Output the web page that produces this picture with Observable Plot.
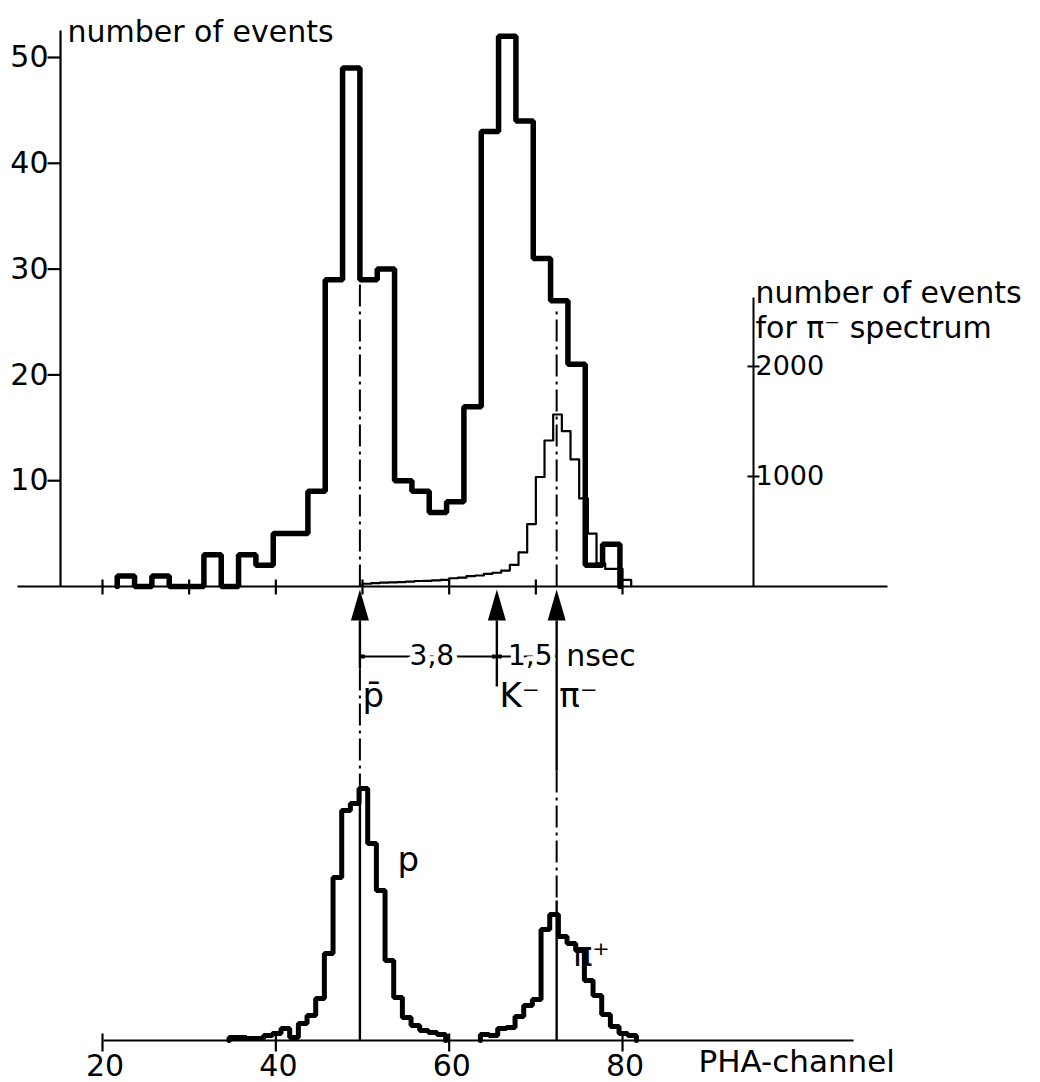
<!DOCTYPE html>
<html><head><meta charset="utf-8">
<script src="https://cdn.jsdelivr.net/npm/d3@7"></script>
<script src="https://cdn.jsdelivr.net/npm/@observablehq/plot@0.6"></script>
<style>body{margin:0;background:#fff}</style>
</head><body><div id="chart"></div>
<script>
// ---------------- data ----------------
// upper histogram (antiproton-selected events), bin edges in PHA channels
const upperEdges = [21.7, 23.7, 25.7, 27.7, 29.7, 31.7, 33.7, 35.7, 37.7, 39.7, 41.7, 43.7, 45.7, 47.7, 49.7, 51.7, 53.7, 55.7, 57.7, 59.7, 61.7, 63.7, 65.7, 67.7, 69.7, 71.7, 73.7, 75.7, 77.7, 79.7];
const upperCounts = [1, 0, 1, 0, 0, 3, 0, 3, 2, 5, 5, 9, 29, 49, 29, 30, 10, 9, 7, 8, 17, 43, 52, 44, 31, 27, 21, 2, 4];
// pi- spectrum (right axis)
const piMinusEdges = [50, 51, 52, 53, 54, 55, 56, 57, 58, 59, 60, 61, 62, 63, 64, 65, 66, 67, 68, 69, 70, 71, 72, 73, 74, 75, 76, 77, 78, 79, 80, 81];
const piMinusCounts = [25, 30, 35, 38, 40, 45, 50, 52, 55, 60, 75, 80, 95, 100, 115, 125, 145, 196, 310, 567, 995, 1327, 1563, 1412, 1155, 800, 480, 210, 160, 160, 60];
// lower panel: p and pi+ spectra (arbitrary units)
const lowerPEdges = [34.6, 35.6, 36.6, 37.6, 38.6, 39.6, 40.6, 41.6, 42.6, 43.6, 44.6, 45.6, 46.6, 47.6, 48.6, 49.6, 50.6, 51.6, 52.6, 53.6, 54.6, 55.6, 56.6, 57.6, 58.6, 59.6];
const lowerPCounts = [3, 3, 2, 2, 5, 7, 12, 3, 17, 25, 42, 87, 163, 230, 237, 252, 197, 150, 80, 43, 23, 15, 10, 8, 6];
const lowerPiPlusEdges = [63.6, 64.6, 65.6, 66.6, 67.6, 68.6, 69.6, 70.6, 71.6, 72.6, 73.6, 74.6, 75.6, 76.6, 77.6, 78.6, 79.6, 80.6, 81.6];
const lowerPiPlusCounts = [6, 5, 12, 13, 24, 35, 41, 111, 126, 104, 97, 90, 60, 45, 26, 14, 7, 5];
// ticks and annotations
const leftTicks = [10, 20, 30, 40, 50];
const rightTicks = [1000, 2000];
const upperXTicks = [20, 30, 40, 50, 60, 70, 80];
const lowerXTicks = [20, 40, 60, 80];
const arrowChannels = [49.7, 65.5, 72.4];
const arrowLabels = ["p\u0304", "K\u207B", "\u03C0\u207B"];
const intervalLabels = ["3,8", "1,5"];

// ---------------- layout helpers ----------------
const PX = 10.58;                 // pixels per upper-axis unit
const X0 = 102, XS = 8.667;       // pixel of channel 20, pixels per channel
const cx = p => 20 + (p - X0) / XS;   // pixel -> channel
const uy = p => (586 - p) / PX;       // pixel -> y unit
const piScale = 10.4 / 1000;          // right axis -> y unit
const lowerBase = uy(1040);
const lowerScale = 1 / PX;
const FONT = "DejaVu Sans";

function steps(edges, counts, f) {
  const pts = [{x: edges[0], y: f(0)}];
  counts.forEach((v, i) => pts.push({x: edges[i], y: f(v)}));
  pts.push({x: edges[edges.length - 1], y: f(counts[counts.length - 1])});
  pts.push({x: edges[edges.length - 1], y: f(0)});
  return pts;
}

const upperLine = steps(upperEdges, upperCounts, v => v);
const piLine = steps(piMinusEdges, piMinusCounts, v => v * piScale);
const pLine = steps(lowerPEdges, lowerPCounts, v => lowerBase + v * lowerScale);
const ppLine = steps(lowerPiPlusEdges, lowerPiPlusCounts, v => lowerBase + v * lowerScale);

const arrows = arrowChannels.map((c, i) => ({c, label: arrowLabels[i]}));
const pbar = arrowChannels[0], kminus = arrowChannels[1], piminus = arrowChannels[2];

// vertical reference line segments (solid / dash-dot)
const solidSeg = [
  {c: pbar, y1: uy(620), y2: uy(668)},
  {c: pbar, y1: uy(785), y2: lowerBase},
  {c: kminus, y1: uy(620), y2: uy(686)},
  {c: piminus, y1: uy(620), y2: uy(770)},
  {c: piminus, y1: uy(900), y2: lowerBase}
];
const dashSeg = [
  {c: pbar, y1: 0, y2: uy(280)},
  {c: pbar, y1: uy(668), y2: uy(785)},
  {c: piminus, y1: 0, y2: uy(307)},
  {c: piminus, y1: uy(770), y2: uy(900)}
];

const arrowHead = {draw(ctx) { ctx.moveTo(0, 0); ctx.lineTo(9, 31); ctx.lineTo(-9, 31); ctx.closePath(); }};

const dimY = uy(656);
const intervals = [
  {a: pbar, b: kminus, label: intervalLabels[0]},
  {a: kminus, b: piminus, label: intervalLabels[1]}
];

const chart = Plot.plot({
  width: 1040, height: 1082,
  marginTop: 0, marginBottom: 0, marginLeft: 0, marginRight: 0,
  x: {domain: [cx(0), cx(1040)], range: [0, 1040], axis: null},
  y: {domain: [uy(1082), uy(0)], range: [1082, 0], axis: null},
  style: {fontFamily: FONT, background: "white", color: "black"},
  marks: [
    // upper axes
    Plot.link([0], {x1: () => cx(17), x2: () => cx(887), y1: () => 0, y2: () => 0, strokeWidth: 2.2}),
    Plot.link(upperXTicks, {x1: d => d, x2: d => d, y1: () => uy(579), y2: () => uy(594), strokeWidth: 2.2}),
    Plot.link([0], {x1: () => cx(60), x2: () => cx(60), y1: () => 0, y2: () => uy(30), strokeWidth: 2.2}),
    Plot.link(leftTicks, {x1: () => cx(47), x2: () => cx(60), y1: d => d, y2: d => d, strokeWidth: 2.2}),
    Plot.text(leftTicks, {x: () => cx(48), y: d => d, text: d => String(d), textAnchor: "end", fontSize: 30, fill: "black"}),
    Plot.text(["number of events"], {x: () => cx(67), y: () => uy(41), text: d => d, textAnchor: "start", lineAnchor: "bottom", fontSize: 30, fill: "black"}),
    // right axis
    Plot.link([0], {x1: () => cx(753), x2: () => cx(753), y1: () => 0, y2: () => uy(297), strokeWidth: 2}),
    Plot.link(rightTicks, {x1: () => cx(747), x2: () => cx(759), y1: d => d * piScale, y2: d => d * piScale, strokeWidth: 2}),
    Plot.text(rightTicks, {x: () => cx(755), y: d => d * piScale, text: d => String(d), textAnchor: "start", fontSize: 27, fill: "black"}),
    Plot.text(["number of events"], {x: () => cx(755), y: () => uy(302), text: d => d, textAnchor: "start", lineAnchor: "bottom", fontSize: 30, fill: "black"}),
    Plot.text(["for \u03C0\u207B spectrum"], {x: () => cx(755), y: () => uy(337), text: d => d, textAnchor: "start", lineAnchor: "bottom", fontSize: 30, fill: "black"}),
    // reference lines
    Plot.link(dashSeg, {x1: "c", x2: "c", y1: "y1", y2: "y2", strokeWidth: 2, strokeDasharray: "22,5,3,5"}),
    Plot.link(solidSeg, {x1: "c", x2: "c", y1: "y1", y2: "y2", strokeWidth: 2.4}),
    Plot.dot(arrows, {x: "c", y: () => uy(589), symbol: arrowHead, fill: "black", stroke: null, r: 5}),
    // time-difference annotation
    Plot.link(intervals, {x1: "a", x2: "b", y1: () => dimY, y2: () => dimY, strokeWidth: 2}),
    Plot.dot(intervals.flatMap(d => [d.a + 0.35, d.b - 0.35]), {x: d => d, y: () => dimY, r: 2.3, fill: "black"}),
    Plot.text(intervals, {x: d => (d.a + d.b) / 2 + 0.4, y: () => dimY, text: "label", fontSize: 28, fill: "black", stroke: "white", strokeWidth: 10, paintOrder: "stroke"}),
    Plot.text(["nsec"], {x: () => piminus + 1.1, y: () => dimY, text: d => d, textAnchor: "start", fontSize: 30, fill: "black"}),
    Plot.text(arrows, {x: d => d.c + 0.3, y: () => uy(706), text: "label", textAnchor: "start", lineAnchor: "bottom", fontSize: 34, fill: "black"}),
    // histograms
    Plot.line(piLine, {x: "x", y: "y", curve: "step-after", strokeWidth: 2.2}),
    Plot.line(upperLine, {x: "x", y: "y", curve: "step-after", strokeWidth: 5.5, strokeLinejoin: "miter"}),
    // lower panel
    Plot.link([0], {x1: () => cx(103), x2: () => cx(853), y1: () => lowerBase, y2: () => lowerBase, strokeWidth: 2.2}),
    Plot.link(lowerXTicks, {x1: d => d, x2: d => d, y1: () => uy(1033), y2: () => uy(1051), strokeWidth: 2.2}),
    Plot.text(lowerXTicks, {x: d => d + 0.3, y: () => uy(1066), text: d => String(d), fontSize: 30, fill: "black"}),
    Plot.text(["PHA-channel"], {x: () => cx(698), y: () => uy(1062), text: d => d, textAnchor: "start", fontSize: 31, fill: "black"}),
    Plot.line(pLine, {x: "x", y: "y", curve: "step-after", strokeWidth: 5, strokeLinejoin: "miter"}),
    Plot.line(ppLine, {x: "x", y: "y", curve: "step-after", strokeWidth: 5, strokeLinejoin: "miter"}),
    Plot.text(["p"], {x: () => cx(397), y: () => uy(870), text: d => d, textAnchor: "start", lineAnchor: "bottom", fontSize: 34, fill: "black"}),
    Plot.text(["\u03C0\u207A"], {x: () => cx(572), y: () => uy(965), text: d => d, textAnchor: "start", lineAnchor: "bottom", fontSize: 33, fill: "black"})
  ]
});
document.getElementById("chart").appendChild(chart);
</script>
</body></html>
